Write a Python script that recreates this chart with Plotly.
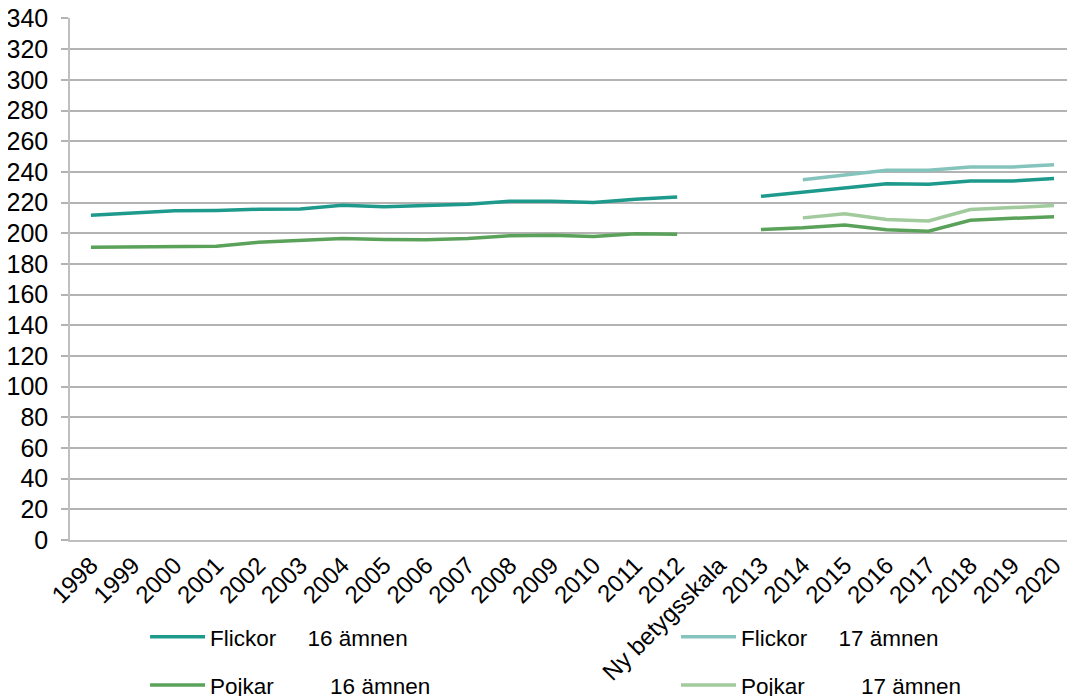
import plotly.graph_objects as go

categories = ["1998", "1999", "2000", "2001", "2002", "2003", "2004", "2005",
              "2006", "2007", "2008", "2009", "2010", "2011", "2012",
              "Ny betygsskala",
              "2013", "2014", "2015", "2016", "2017", "2018", "2019", "2020"]

flickor_16 = [211.7, 213.2, 214.6, 214.8, 215.6, 215.8, 218.2, 217.3,
              218.0, 218.8, 220.8, 220.8, 220.0, 222.1, 223.6,
              None,
              224.1, 226.9, 229.5, 232.3, 231.9, 234.0, 234.0, 235.6]
pojkar_16 = [190.8, 191.1, 191.4, 191.5, 194.1, 195.3, 196.5, 195.9,
             195.8, 196.5, 198.4, 198.6, 197.8, 199.7, 199.3,
             None,
             202.4, 203.5, 205.4, 202.2, 201.3, 208.4, 209.7, 210.8]
flickor_17 = [None] * 17 + [234.9, 237.9, 241.0, 241.0, 243.2, 243.2, 244.7]
pojkar_17 = [None] * 17 + [210.0, 212.6, 208.9, 208.0, 215.4, 216.7, 218.0]

y_ticks = list(range(0, 341, 20))

NB = "\u00a0"
series = [
    ("Flickor" + NB * 5 + "16 ämnen", flickor_16, "#1E9A8C", "legend"),
    ("Pojkar" + NB * 9 + "16 ämnen", pojkar_16, "#5AA25A", "legend"),
    ("Flickor" + NB * 5 + "17 ämnen", flickor_17, "#85C4BC", "legend2"),
    ("Pojkar" + NB * 9 + "17 ämnen", pojkar_17, "#A1CA9D", "legend2"),
]

fig = go.Figure()
for i, (name, vals, color, leg) in enumerate(series):
    fig.add_trace(go.Scatter(
        x=categories, y=vals, name=name, mode="lines",
        line=dict(color=color, width=3.5),
        connectgaps=False, legend=leg, legendgroup=f"g{i}",
    ))

font_family = "Liberation Sans, Arial, sans-serif"

# the page body adds an 8px offset, so the figure is sized to fit the window
fig.update_layout(
    width=1067, height=688,
    margin=dict(l=62, r=0, t=10, b=156, autoexpand=False),
    plot_bgcolor="white", paper_bgcolor="white",
    font=dict(family=font_family, size=22, color="#000000"),
    showlegend=True,
    legend=dict(x=0.0747, y=-0.145, xanchor="left", yanchor="top",
                orientation="v", traceorder="grouped", tracegroupgap=16,
                itemwidth=55, font=dict(size=22.5, family=font_family),
                bgcolor="rgba(0,0,0,0)"),
    legend2=dict(x=0.603, y=-0.145, xanchor="left", yanchor="top",
                 orientation="v", traceorder="grouped", tracegroupgap=16,
                 itemwidth=55, font=dict(size=22.5, family=font_family),
                 bgcolor="rgba(0,0,0,0)"),
    xaxis=dict(
        type="category", categoryorder="array", categoryarray=categories,
        range=[-0.5, len(categories) - 0.5],
        tickangle=-45, tickfont=dict(size=24, family=font_family),
        showgrid=False, showline=True, linecolor="#BFBFBF", linewidth=1.5,
        ticks="", zeroline=False, automargin=False,
        ticklabeloverflow="allow",
    ),
    yaxis=dict(
        range=[0, 340.3], tickvals=y_ticks, ticktext=[str(v) for v in y_ticks],
        tickfont=dict(size=25, family=font_family),
        showgrid=True, gridcolor="#B3B3B3", gridwidth=1.5,
        showline=True, linecolor="#BFBFBF", linewidth=1.5,
        ticks="outside", ticklen=7, tickcolor="#B3B3B3", tickwidth=1.5,
        ticklabelstandoff=8, ticklabeloverflow="allow",
        zeroline=False, automargin=False,
    ),
)

fig.write_html("out.html")
